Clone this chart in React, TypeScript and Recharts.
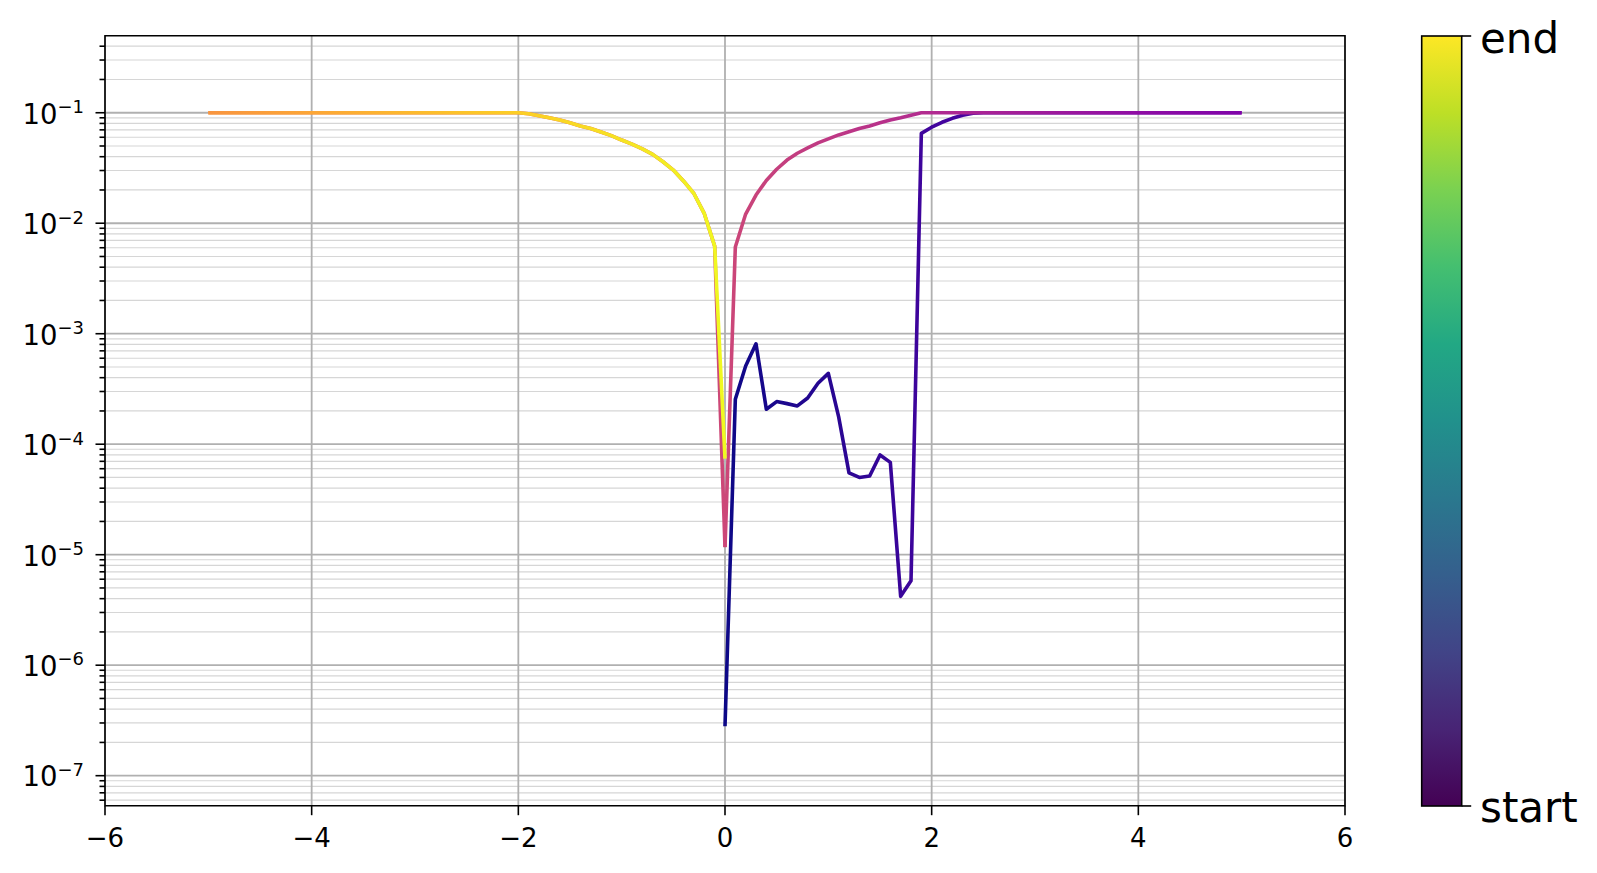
import { LineChart, Line, XAxis, YAxis, CartesianGrid, ReferenceArea } from "recharts";

// bias sweep positions (V)
const positiveX = [
  0, 0.1, 0.2, 0.3, 0.4, 0.5, 0.6, 0.7, 0.8, 0.9, 1.0, 1.1, 1.2, 1.3, 1.4, 1.5, 1.6, 1.7, 1.8, 1.9,
  2.0, 2.1, 2.2, 2.3, 2.4, 2.5, 2.6, 2.7, 2.8, 2.9, 3.0, 3.1, 3.2, 3.3, 3.4, 3.5, 3.6, 3.7, 3.8, 3.9,
  4.0, 4.1, 4.2, 4.3, 4.4, 4.5, 4.6, 4.7, 4.8, 4.9, 5.0,
];
const negativeX = [
  0, -0.1, -0.2, -0.3, -0.4, -0.5, -0.6, -0.7, -0.8, -0.9, -1.0, -1.1, -1.2, -1.3, -1.4, -1.5, -1.6, -1.7, -1.8, -1.9,
  -2.0, -2.1, -2.2, -2.3, -2.4, -2.5, -2.6, -2.7, -2.8, -2.9, -3.0, -3.1, -3.2, -3.3, -3.4, -3.5, -3.6, -3.7, -3.8, -3.9,
  -4.0, -4.1, -4.2, -4.3, -4.4, -4.5, -4.6, -4.7, -4.8, -4.9, -5.0,
];

// 0 -> 5
const sweep1 = [
  2.8e-7, 2.55e-4, 5.1e-4, 8.1e-4, 2.07e-4, 2.43e-4, 2.33e-4, 2.22e-4, 2.62e-4, 3.56e-4, 4.38e-4,
  1.77e-4, 5.5e-5, 5.0e-5, 5.15e-5, 8.0e-5, 6.85e-5, 4.2e-6, 5.8e-6, 0.065, 0.074, 0.082, 0.089,
  0.095, 0.099, 0.1, 0.1, 0.1, 0.1, 0.1, 0.1, 0.1, 0.1, 0.1, 0.1, 0.1, 0.1, 0.1, 0.1, 0.1, 0.1,
  0.1, 0.1, 0.1, 0.1, 0.1, 0.1, 0.1, 0.1, 0.1, 0.1,
];
// 5 -> 0
const sweep2 = [
  0.1, 0.1, 0.1, 0.1, 0.1, 0.1, 0.1, 0.1, 0.1, 0.1, 0.1, 0.1, 0.1, 0.1, 0.1, 0.1, 0.1, 0.1, 0.1, 0.1,
  0.1, 0.1, 0.1, 0.1, 0.1, 0.1, 0.1, 0.1, 0.1, 0.1, 0.1, 0.1, 0.095, 0.09, 0.086, 0.081, 0.076, 0.072,
  0.0674, 0.063, 0.058, 0.0533, 0.048, 0.043, 0.0373, 0.0308, 0.0244, 0.018, 0.0121, 0.0061, 1.17e-5,
];
// 0 -> -5
const sweep3 = [
  1.17e-5, 0.0062, 0.0122, 0.0185, 0.024, 0.0303, 0.036, 0.042, 0.047, 0.052, 0.0566, 0.062, 0.067,
  0.072, 0.076, 0.081, 0.086, 0.09, 0.094, 0.098, 0.1, 0.1, 0.1, 0.1, 0.1, 0.1, 0.1, 0.1, 0.1, 0.1,
  0.1, 0.1, 0.1, 0.1, 0.1, 0.1, 0.1, 0.1, 0.1, 0.1, 0.1, 0.1, 0.1, 0.1, 0.1, 0.1, 0.1, 0.1, 0.1, 0.1, 0.1,
];
// -5 -> 0
const sweep4 = [
  0.1, 0.1, 0.1, 0.1, 0.1, 0.1, 0.1, 0.1, 0.1, 0.1, 0.1, 0.1, 0.1, 0.1, 0.1, 0.1, 0.1, 0.1, 0.1, 0.1,
  0.1, 0.1, 0.1, 0.1, 0.1, 0.1, 0.1, 0.1, 0.1, 0.1, 0.1, 0.098, 0.094, 0.09, 0.086, 0.081, 0.076,
  0.072, 0.067, 0.062, 0.0566, 0.052, 0.047, 0.042, 0.036, 0.0303, 0.024, 0.0185, 0.0122, 0.0062, 7.4e-5,
];

const xTicks = [-6, -4, -2, 0, 2, 4, 6];
const yMajorTicks = [1e-7, 1e-6, 1e-5, 1e-4, 1e-3, 1e-2, 1e-1];
const yMinorTicks = [
  6e-8, 7e-8, 8e-8, 9e-8,
  2e-7, 3e-7, 4e-7, 5e-7, 6e-7, 7e-7, 8e-7, 9e-7,
  2e-6, 3e-6, 4e-6, 5e-6, 6e-6, 7e-6, 8e-6, 9e-6,
  2e-5, 3e-5, 4e-5, 5e-5, 6e-5, 7e-5, 8e-5, 9e-5,
  2e-4, 3e-4, 4e-4, 5e-4, 6e-4, 7e-4, 8e-4, 9e-4,
  2e-3, 3e-3, 4e-3, 5e-3, 6e-3, 7e-3, 8e-3, 9e-3,
  2e-2, 3e-2, 4e-2, 5e-2, 6e-2, 7e-2, 8e-2, 9e-2,
  2e-1, 3e-1, 4e-1,
];
const Y_MIN = 5.35e-8;
const Y_MAX = 0.498;

const toRows = (xs: number[], ys: number[]) => xs.map((x, i) => ({ x, y: ys[i] }));
const seg1 = toRows(positiveX, sweep1);
const seg2 = toRows([...positiveX].reverse(), sweep2);
const seg3 = toRows(negativeX, sweep3);
const seg4 = toRows([...negativeX].reverse(), sweep4);

const FONT = "'DejaVu Sans', sans-serif";

const XTick = ({ x, y, payload }: any) => {
  const v = payload.value;
  const label = v < 0 ? `\u2212${Math.abs(v)}` : `${v}`;
  return (
    <g>
      <line x1={x} x2={x} y1={y} y2={y + 9.5} stroke="#000" strokeWidth={1.6} />
      <text x={x} y={y + 41.5} textAnchor="middle" fontSize={26} fontFamily={FONT} fill="#000">
        {label}
      </text>
    </g>
  );
};

const YTick = ({ x, y, payload }: any) => {
  const v = payload.value;
  const major = yMajorTicks.includes(v);
  const exp = Math.round(Math.log10(v));
  return (
    <g>
      <line x1={x - (major ? 9.5 : 5.5)} x2={x} y1={y} y2={y} stroke="#000" strokeWidth={1.6} />
      {major && (
        <text x={x - 21} y={y + 10.8} textAnchor="end" fontSize={27.5} fontFamily={FONT} fill="#000">
          <tspan>10</tspan>
          <tspan dy={-10.5} fontSize={18}>{`\u2212${Math.abs(exp)}`}</tspan>
        </text>
      )}
    </g>
  );
};

function ColorBar() {
  return (
    <svg width={1597} height={873} style={{ position: "absolute", left: 0, top: 0, pointerEvents: "none" }}>
      <defs>
        <linearGradient id="viridis" x1="0" y1="1" x2="0" y2="0">
          <stop offset="0" stopColor="#440154" />
          <stop offset="0.1" stopColor="#482475" />
          <stop offset="0.2" stopColor="#414487" />
          <stop offset="0.3" stopColor="#355f8d" />
          <stop offset="0.4" stopColor="#2a788e" />
          <stop offset="0.5" stopColor="#21918c" />
          <stop offset="0.6" stopColor="#22a884" />
          <stop offset="0.7" stopColor="#44bf70" />
          <stop offset="0.8" stopColor="#7ad151" />
          <stop offset="0.9" stopColor="#bddf26" />
          <stop offset="1" stopColor="#fde725" />
        </linearGradient>
      </defs>
      <rect x={1421.7} y={36} width={40} height={770} fill="url(#viridis)" stroke="#000" strokeWidth={1.6} />
      <line x1={1461.7} x2={1471.2} y1={36} y2={36} stroke="#000" strokeWidth={1.6} />
      <line x1={1461.7} x2={1471.2} y1={806} y2={806} stroke="#000" strokeWidth={1.6} />
      <text x={1480} y={53} fontSize={42} fontFamily={FONT} fill="#000">end</text>
      <text x={1480} y={822} fontSize={42} fontFamily={FONT} fill="#000">start</text>
    </svg>
  );
}

export default function App() {
  return (
    <div style={{ position: "absolute", left: 0, top: 0, width: 1597, height: 873, background: "#fff" }}>
      <LineChart width={1597} height={873} margin={{ top: 35.7, right: 252, bottom: 0, left: 0 }}>
        <defs>
          <linearGradient id="plasma1" x1="0" y1="0" x2="1" y2="0">
            <stop offset="0" stopColor="#0d0887" />
            <stop offset="0.4" stopColor="#41049d" />
            <stop offset="0.8" stopColor="#6a00a8" />
            <stop offset="1" stopColor="#7e03a8" />
          </linearGradient>
          <linearGradient id="plasma2" x1="1" y1="0" x2="0" y2="0">
            <stop offset="0" stopColor="#7e03a8" />
            <stop offset="0.2" stopColor="#8f0da4" />
            <stop offset="0.6" stopColor="#b12a90" />
            <stop offset="1" stopColor="#cc4778" />
          </linearGradient>
          <linearGradient id="plasma3" x1="1" y1="0" x2="0" y2="0">
            <stop offset="0" stopColor="#cc4778" />
            <stop offset="0.4" stopColor="#e16462" />
            <stop offset="0.8" stopColor="#f2844b" />
            <stop offset="1" stopColor="#f89540" />
          </linearGradient>
          <linearGradient id="plasma4" x1="0" y1="0" x2="1" y2="0">
            <stop offset="0" stopColor="#f89540" />
            <stop offset="0.2" stopColor="#fca636" />
            <stop offset="0.6" stopColor="#fcce25" />
            <stop offset="1" stopColor="#f0f921" />
          </linearGradient>
        </defs>
        <CartesianGrid horizontalValues={yMinorTicks} vertical={false} stroke="#d6d6d6" strokeWidth={1.2} />
        <CartesianGrid horizontalValues={yMajorTicks} verticalValues={xTicks} stroke="#b0b0b0" strokeWidth={1.8} />
        <XAxis
          dataKey="x"
          type="number"
          domain={[-6, 6]}
          ticks={xTicks}
          interval={0}
          allowDataOverflow
          height={67.3}
          axisLine={false}
          tickLine={false}
          tickSize={0}
          tickMargin={0}
          tick={<XTick />}
        />
        <YAxis
          dataKey="y"
          type="number"
          scale="log"
          domain={[Y_MIN, Y_MAX]}
          ticks={[...yMajorTicks, ...yMinorTicks]}
          interval={0}
          allowDataOverflow
          width={105}
          axisLine={false}
          tickLine={false}
          tickSize={0}
          tickMargin={0}
          tick={<YTick />}
        />
        <Line data={seg1} dataKey="y" type="linear" stroke="url(#plasma1)" strokeWidth={3.6} strokeLinejoin="round" dot={false} isAnimationActive={false} />
        <Line data={seg2} dataKey="y" type="linear" stroke="url(#plasma2)" strokeWidth={3.6} strokeLinejoin="round" dot={false} isAnimationActive={false} />
        <Line data={seg3} dataKey="y" type="linear" stroke="url(#plasma3)" strokeWidth={3.6} strokeLinejoin="round" dot={false} isAnimationActive={false} />
        <Line data={seg4} dataKey="y" type="linear" stroke="url(#plasma4)" strokeWidth={3.6} strokeLinejoin="round" dot={false} isAnimationActive={false} />
        <ReferenceArea x1={-6} x2={6} y1={Y_MIN} y2={Y_MAX} fill="none" stroke="#000" strokeWidth={1.6} />
      </LineChart>
      <ColorBar />
    </div>
  );
}
